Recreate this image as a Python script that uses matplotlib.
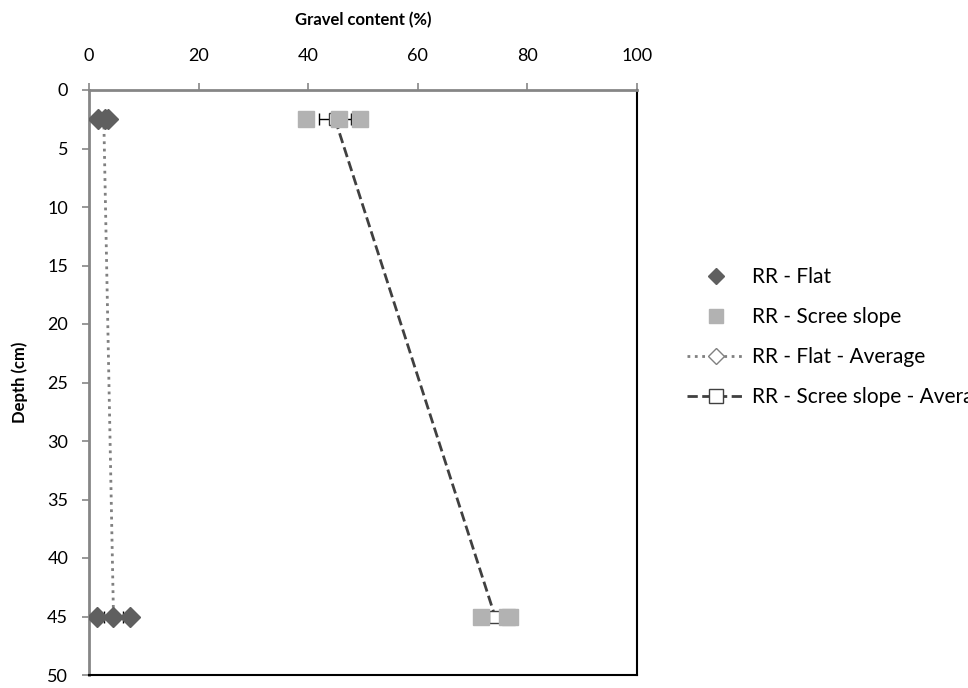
import matplotlib.pyplot as plt
from matplotlib.lines import Line2D
import numpy as np

plt.rcParams['font.family'] = ['Lato', 'DejaVu Sans']

# raw samples
flat_depth = [2.5, 2.5, 2.5, 45, 45, 45]
flat_gravel = [1.6, 3.0, 3.5, 1.5, 4.4, 7.5]
scree_depth = [2.5, 2.5, 2.5, 45, 45, 45]
scree_gravel = [39.6, 45.6, 49.5, 71.6, 76.2, 76.9]

# averages with standard errors
avg_depth = [2.5, 45]
flat_avg = [2.7, 4.47]
flat_se = [0.6, 1.73]
scree_avg = [44.9, 74.1]
scree_se = [2.9, 1.5]

fig = plt.figure(figsize=(9.68, 6.88), dpi=100)
ax = fig.add_axes([89 / 968, 1 - 675 / 688, (637 - 89) / 968, (675 - 90) / 688])

ax.errorbar(flat_avg, avg_depth, xerr=flat_se, color="#808080", ls=":", lw=2,
            marker="D", ms=7, mfc="white", mec="#808080", ecolor="black",
            elinewidth=1, capsize=4, zorder=2)
ax.errorbar(scree_avg, avg_depth, xerr=scree_se, color="#404040", ls="--", lw=2,
            marker="s", ms=9, mfc="white", mec="#404040", ecolor="black",
            elinewidth=1, capsize=4, zorder=2)
ax.plot(flat_gravel, flat_depth, ls="none", marker="D", ms=10, color="#5f5f5f",
        zorder=3)
ax.plot(scree_gravel, scree_depth, ls="none", marker="s", ms=11, color="#b2b2b2",
        zorder=3)

ax.set_xlim(0, 100)
ax.set_ylim(50, 0)
ax.set_xticks(np.arange(0, 101, 20))
ax.set_yticks(np.arange(0, 51, 5))
ax.xaxis.tick_top()
ax.xaxis.set_label_position("top")
ax.tick_params(axis="both", labelsize=13, length=5, width=1.2, color="#868686")
ax.tick_params(axis="x", pad=14)
ax.tick_params(axis="y", pad=10)
for s in ["top", "left"]:
    ax.spines[s].set_color("#868686")
    ax.spines[s].set_linewidth(2)
for s in ["bottom", "right"]:
    ax.spines[s].set_color("black")
    ax.spines[s].set_linewidth(1.5)

ax.set_xlabel("Gravel content (%)", fontsize=12, fontweight="bold", labelpad=16)
ax.set_ylabel("Depth (cm)", fontsize=12, fontweight="bold", labelpad=14)

handles = [
    Line2D([], [], ls="none", marker="D", ms=8, color="#5f5f5f"),
    Line2D([], [], ls="none", marker="s", ms=10, color="#b2b2b2"),
    Line2D([], [], ls=":", lw=2, color="#808080", marker="D", ms=8,
           mfc="white", mec="#808080"),
    Line2D([], [], ls="--", lw=2, color="#404040", marker="s", ms=10,
           mfc="white", mec="#404040"),
]
labels = ["RR - Flat", "RR - Scree slope", "RR - Flat - Average",
          "RR - Scree slope - Average"]
fig.legend(handles, labels, loc="center left", bbox_to_anchor=(687 / 968, 0.51),
           frameon=False, fontsize=15, handlelength=2.8, handletextpad=0.3,
           labelspacing=0.95, borderpad=0, borderaxespad=0)

fig.savefig("out.png", dpi=100)
